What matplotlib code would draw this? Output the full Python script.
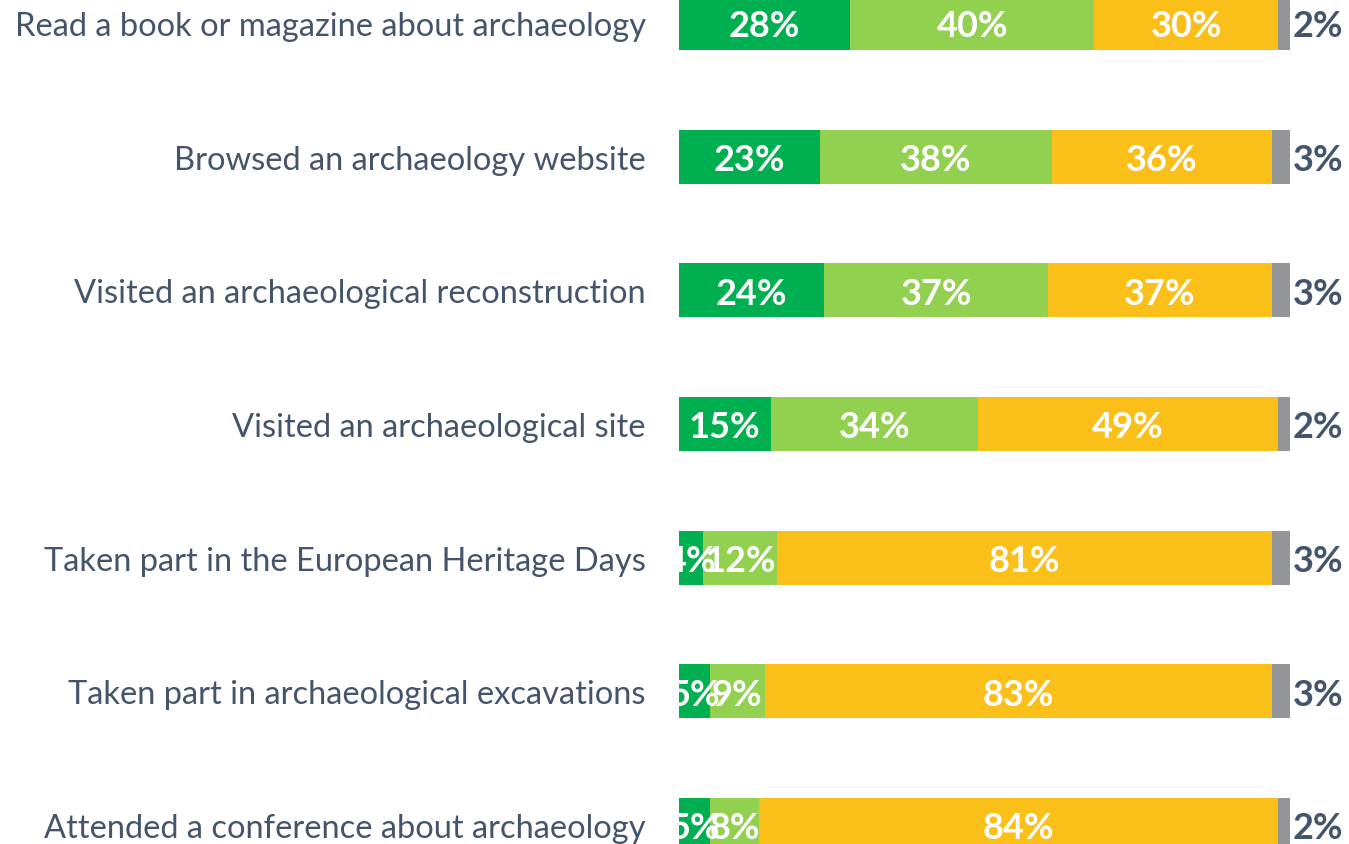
import matplotlib.pyplot as plt
import numpy as np

categories = [
    "Read a book or magazine about archaeology",
    "Browsed an archaeology website",
    "Visited an archaeological reconstruction",
    "Visited an archaeological site",
    "Taken part in the European Heritage Days",
    "Taken part in archaeological excavations",
    "Attended a conference about archaeology",
]
often = [28, 23, 24, 15, 4, 5, 5]
sometimes = [40, 38, 37, 34, 12, 9, 8]
never = [30, 36, 37, 49, 81, 83, 84]
dont_know = [2, 3, 3, 2, 3, 3, 2]

colors = ["#00B050", "#92D050", "#FBBF19", "#939598"]
label_color = "#44546A"

plt.rcParams["font.family"] = ["Lato", "DejaVu Sans"]

fig = plt.figure(figsize=(13.49, 8.45), dpi=100)
ax = fig.add_axes([679 / 1349, 0, 611 / 1349, 1])

y = np.arange(len(categories))
series = [np.array(s, dtype=float) for s in (often, sometimes, never, dont_know)]
totals = sum(series)
left = np.zeros(len(categories))
for i, vals in enumerate(series):
    widths = vals / totals * 100  # bars are drawn as shares of 100%
    ax.barh(y, widths, left=left, height=0.405, color=colors[i], edgecolor="none")
    for yy, l, w, v in zip(y, left, widths, vals):
        if i < 3:
            ax.text(l + w / 2, yy + 0.02, f"{int(v)}%", ha="center", va="center",
                    color="white", fontsize=26, fontweight="bold")
        else:
            ax.text(l + w + 0.4, yy + 0.02, f"{int(v)}%", ha="left", va="center",
                    color=label_color, fontsize=26, fontweight="bold")
    left += widths

ax.set_xlim(0, 100)
ax.set_ylim(6 + 19 / 133.67, -24 / 133.67)
ax.set_yticks(y)
ax.set_yticklabels(categories, fontsize=23.5, color=label_color)
ax.tick_params(axis="y", length=0, pad=24)
ax.set_xticks([])
for s in ax.spines.values():
    s.set_visible(False)

fig.savefig("out.png", dpi=100)
